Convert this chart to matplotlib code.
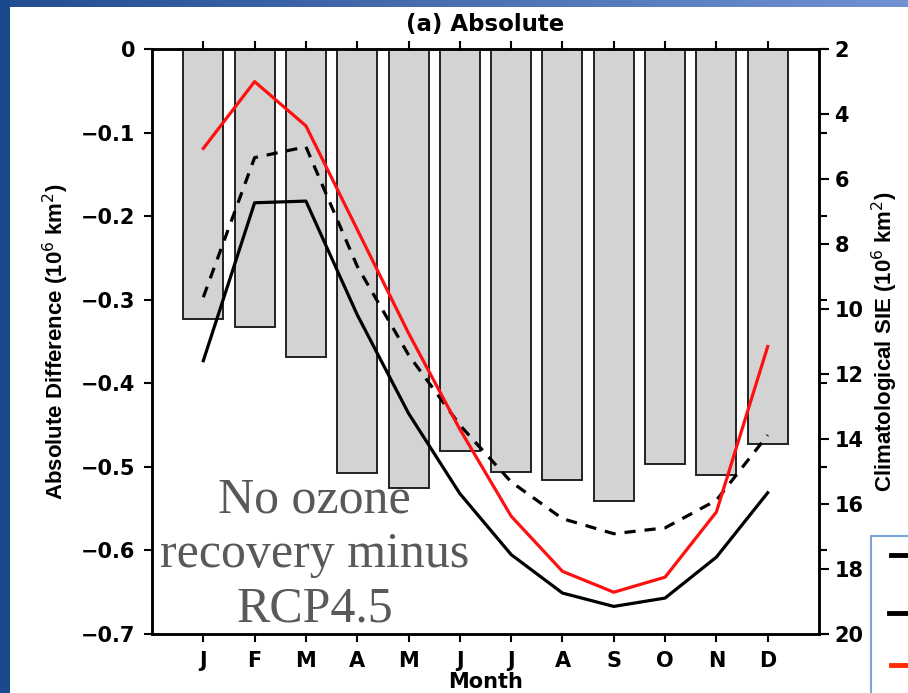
import matplotlib
matplotlib.use("Agg")
import matplotlib.pyplot as plt
import numpy as np
from matplotlib.lines import Line2D
from matplotlib.patches import Rectangle

# datos
meses = ["J", "F", "M", "A", "M", "J", "J", "A", "S", "O", "N", "D"]
sie_clim = [10.32, 10.54, 11.48, 15.05, 15.50, 14.36, 15.02, 15.26, 15.91, 14.77, 15.10, 14.15]
dif_negra = [-0.373, -0.184, -0.182, -0.318, -0.436, -0.532, -0.605, -0.651, -0.667, -0.657, -0.608, -0.531]
dif_discontinua = [-0.297, -0.130, -0.117, -0.260, -0.366, -0.450, -0.518, -0.562, -0.580, -0.573, -0.540, -0.462]
dif_roja = [-0.119, -0.039, -0.092, -0.216, -0.340, -0.455, -0.559, -0.625, -0.650, -0.632, -0.554, -0.356]
y_ticks = [0, -0.1, -0.2, -0.3, -0.4, -0.5, -0.6, -0.7]
y_labels = ["0", "\u22120.1", "\u22120.2", "\u22120.3", "\u22120.4", "\u22120.5", "\u22120.6", "\u22120.7"]
sie_ticks = [2, 4, 6, 8, 10, 12, 14, 16, 18, 20]

x = np.arange(1, 13)
W, H = 908, 693
fig = plt.figure(figsize=(W / 100, H / 100), dpi=100)

# fondo azul de la diapositiva
bg = fig.add_axes([0, 0, 1, 1], zorder=-10)
bg.axis("off")
bg.set_xlim(0, W)
bg.set_ylim(H, 0)
grad = np.linspace(0, 1, 256).reshape(1, -1)
cmap_top = matplotlib.colors.LinearSegmentedColormap.from_list("t", ["#234d92", "#6f92d2"])
bg.imshow(grad, cmap=cmap_top, extent=[0, W, 7, 0], aspect="auto")
bg.add_patch(Rectangle((0, 0), 10, H, color="#1b4a8c", lw=0))

fuente = "DejaVu Sans"
fuente_v = "Liberation Sans"

ax = fig.add_axes([152 / W, 1 - 634 / H, (819 - 152) / W, (634 - 49) / H])
ax2 = ax.twinx()

ax2.bar(x, np.array(sie_clim) - 2, bottom=2, width=0.78, color="#d3d3d3",
        edgecolor="#222222", linewidth=1.4)
ax2.set_ylim(20, 2)
ax2.set_yticks(sie_ticks)
ax2.set_yticklabels([str(t) for t in sie_ticks], fontfamily=fuente, fontweight="bold", fontsize=15)
ax2.tick_params(axis="y", direction="out", length=7, width=1.5, pad=4)
ax2.set_ylabel("Climatological SIE (10$^6$ km$^2$)", fontfamily=fuente_v, fontweight="bold",
               fontsize=16, labelpad=5)

ax.set_zorder(ax2.get_zorder() + 1)
ax.patch.set_visible(False)

ax.plot(x, dif_negra, color="black", lw=2.3)
ax.plot(x, dif_discontinua, color="black", lw=2.3, dashes=(3.5, 2.8))
ax.plot(x, dif_roja, color="#ff1010", lw=2.3)

ax.set_xlim(0, 13)
ax.set_ylim(-0.7, 0)
ax.set_yticks(y_ticks)
ax.set_yticklabels(y_labels, fontfamily=fuente, fontweight="bold", fontsize=15)
ax.set_xticks(x)
ax.set_xticklabels(meses, fontfamily=fuente, fontweight="bold", fontsize=15)
ax.tick_params(axis="both", direction="out", length=6, width=1.5, top=True, right=True)
ax.tick_params(axis="x", pad=6)
ax.tick_params(axis="y", pad=6)
ax.set_ylabel("Absolute Difference (10$^6$ km$^2$)", fontfamily=fuente_v, fontweight="bold",
              fontsize=16, labelpad=7)
ax.set_xlabel("Month", fontfamily=fuente, fontweight="bold", fontsize=15, labelpad=1)
ax.set_title("(a) Absolute", fontfamily=fuente, fontweight="bold", fontsize=16.5, pad=13)
for a in (ax, ax2):
    for s in a.spines.values():
        s.set_linewidth(1.8)

ax.text(0.244, 0.135, "No ozone\nrecovery minus\nRCP4.5", transform=ax.transAxes,
        ha="center", va="center", multialignment="center", fontfamily="Liberation Serif",
        fontsize=36, color="#595959", linespacing=1.22)

# recuadro de leyenda recortado
leg = fig.add_axes([0, 0, 1, 1], zorder=20)
leg.axis("off")
leg.set_xlim(0, W)
leg.set_ylim(H, 0)
leg.add_patch(Rectangle((871, 536), 60, 200, facecolor="white", edgecolor="#7aa5d8", lw=1.5))
leg.add_line(Line2D([891, 910], [555, 555], color="black", lw=3.5))
leg.add_line(Line2D([889, 910], [613, 613], color="black", lw=3.5))
leg.add_line(Line2D([891, 910], [665, 665], color="#ff2a00", lw=3.5))

fig.savefig("out.png", dpi=100)
